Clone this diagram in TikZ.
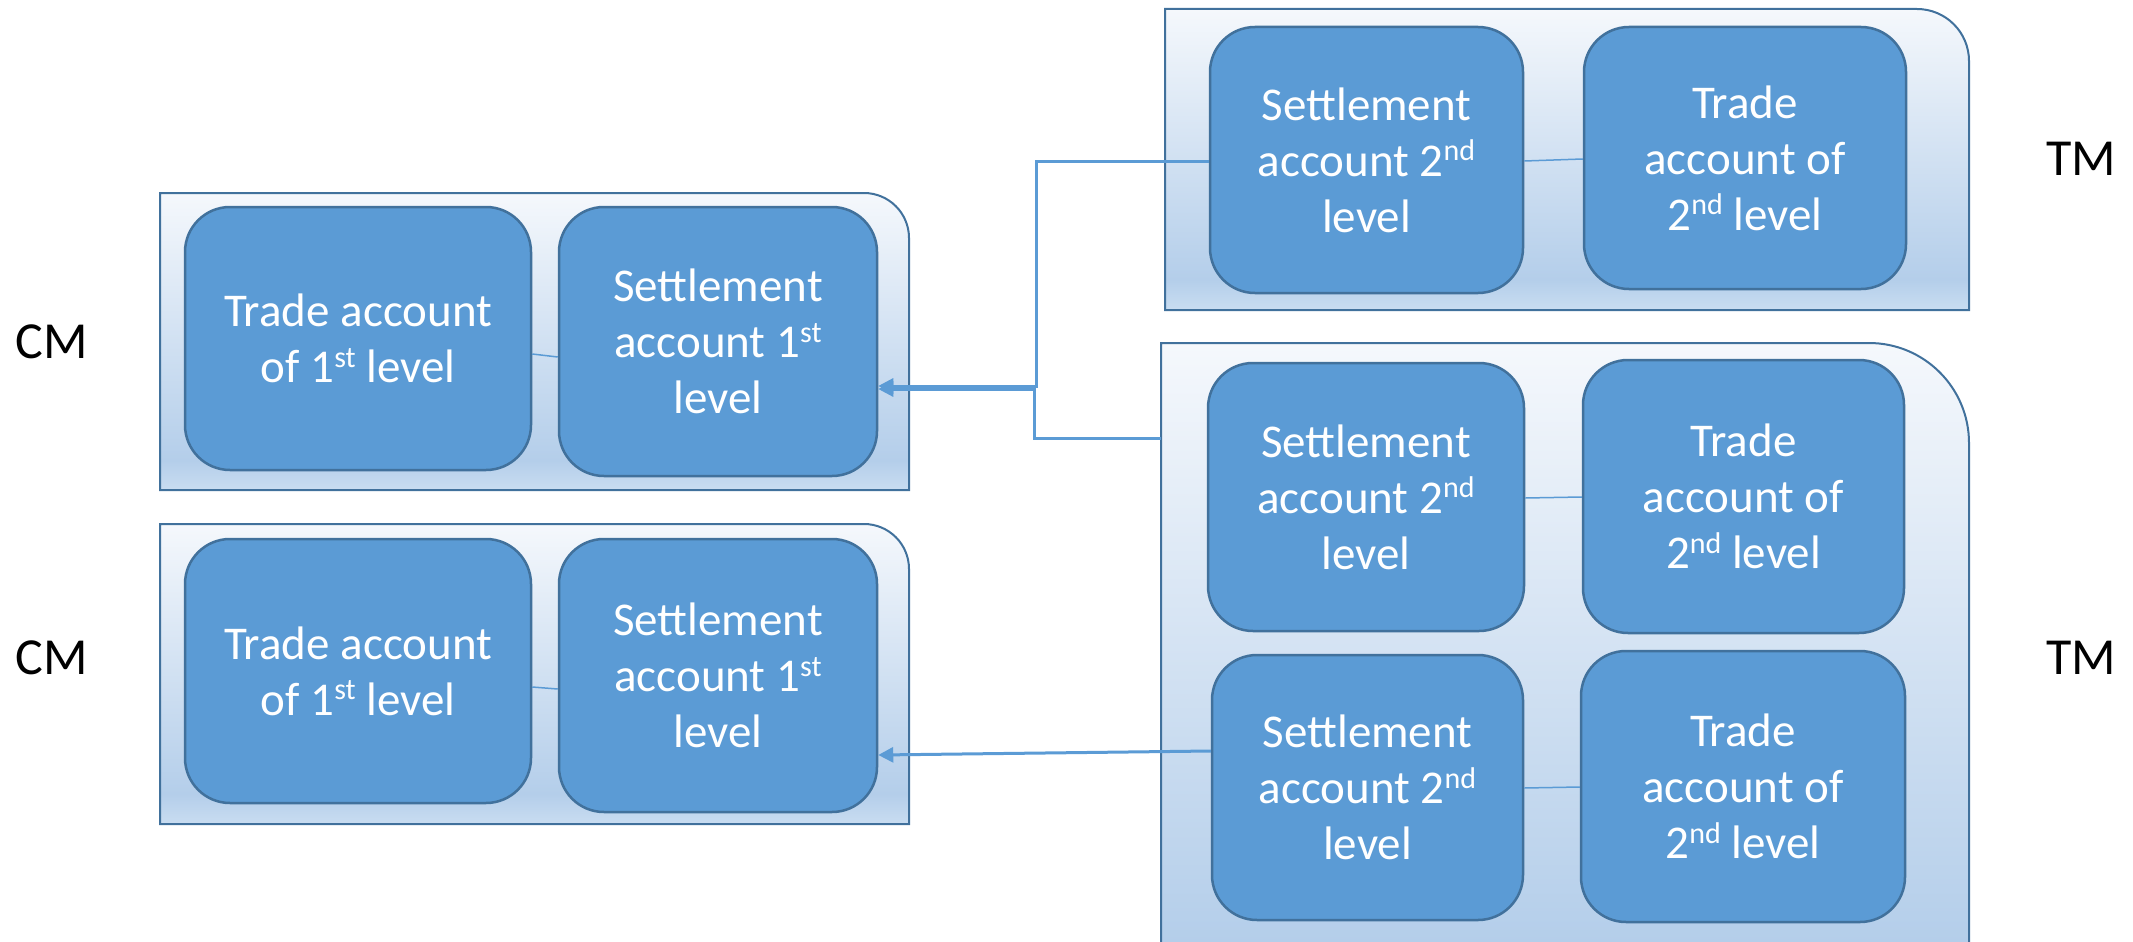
\documentclass[tikz,border=0pt]{standalone}
\usepackage{fontspec}
\setmainfont{Carlito}
\usetikzlibrary{arrows.meta}
\definecolor{boxfill}{HTML}{5B9BD5}
\definecolor{boxline}{HTML}{41719C}
\definecolor{linkc}{HTML}{5B9BD5}
\definecolor{shT}{HTML}{F5F8FC}
\definecolor{shM}{HTML}{B4CEEA}
\definecolor{shB}{HTML}{C9DDF1}
\pgfdeclareverticalshading{contshade}{100bp}{color(0bp)=(shB); color(25bp)=(shB); color(30bp)=(shM); color(75bp)=(shT); color(100bp)=(shT)}
\newcommand\sups[1]{\raisebox{0.33em}{\fontsize{30}{30}\selectfont #1}}
\newcommand\contpath[5]{%
  \path[cont] (#1,#2) -- ({#3-#5},#2) .. controls ({#3-0.448*#5},#2) and (#3,{#2+0.448*#5}) .. (#3,{#2+#5}) -- (#3,#4) -- (#1,#4) -- cycle;}
\begin{document}
\begin{tikzpicture}[x=1pt,y=-1pt,
  acct/.style={draw=boxline, fill=boxfill, line width=2.5pt, rounded corners=45pt, inner sep=0pt, text=white, align=center, font=\fontsize{47}{56}\selectfont},
  cont/.style={draw=boxline, line width=2pt, shade, shading=contshade},
  tag/.style={font=\fontsize{52}{60}\selectfont, text=black, inner sep=0pt},
  thinlink/.style={draw=linkc, line width=1.5pt},
  link/.style={draw=linkc, line width=3pt, -{Triangle[length=15pt,width=15pt]}},
]
\useasboundingbox (0,0) rectangle (2133,942);
\clip (0,0) rectangle (2133,942);

% containers
\contpath{160}{193}{909}{490}{45}
\contpath{160}{524}{909}{824}{45}
\contpath{1165}{9}{1969}{310}{52}
\contpath{1161}{343}{1969}{1010}{100}
\coordinate (Dw) at (1161,438);

% account boxes
\node[acct, minimum width=346pt, minimum height=263pt] (A1) at (358,338.5) {Trade account\\of 1\sups{st} level};
\node[acct, minimum width=318pt, minimum height=269pt] (A2) at (718,341.5) {Settlement\\account 1\sups{st}\\level};
\node[acct, minimum width=346pt, minimum height=264pt] (B1) at (358,671) {Trade account\\of 1\sups{st} level};
\node[acct, minimum width=318pt, minimum height=273pt] (B2) at (718,675.5) {Settlement\\account 1\sups{st}\\level};

\node[acct, minimum width=313pt, minimum height=266pt] (C1) at (1366.5,160) {Settlement\\account 2\sups{nd}\\level};
\node[acct, minimum width=322pt, minimum height=262pt] (C2) at (1745,158) {Trade\\account of\\2\sups{nd} level};

\node[acct, minimum width=316pt, minimum height=268pt] (D1) at (1366,497) {Settlement\\account 2\sups{nd}\\level};
\node[acct, minimum width=321pt, minimum height=273pt] (D2) at (1743.5,496.5) {Trade\\account of\\2\sups{nd} level};
\node[acct, minimum width=311pt, minimum height=265pt] (D3) at (1367.5,787.5) {Settlement\\account 2\sups{nd}\\level};
\node[acct, minimum width=324pt, minimum height=271pt] (D4) at (1743,786.5) {Trade\\account of\\2\sups{nd} level};

% thin links
\draw[thinlink] (A1.east |- 0,354) -- (A2.west |- 0,357);
\draw[thinlink] (B1.east |- 0,687) -- (B2.west |- 0,689);
\draw[thinlink] (C1.east |- 0,161) -- (C2.west |- 0,159);
\draw[thinlink] (D1.east |- 0,498) -- (D2.west |- 0,497);
\draw[thinlink] (D3.east |- 0,788) -- (D4.west |- 0,787);

% arrows
\draw[link] (C1.west |- 0,161) -| (1036,386) -- (A2.east |- 0,386);
\draw[link] (Dw) -| (1034,389) -- (A2.east |- 0,389);
\draw[link] (D3.west |- 0,751) -- (B2.east |- 0,755);

% labels
\node[tag] (cm1) at (52,341.5) {CM};
\node[tag] (cm2) at (52,658) {CM};
\node[tag] (tm1) at (2081,159) {TM};
\node[tag] (tm2) at (2081,658) {TM};
\end{tikzpicture}
\end{document}
